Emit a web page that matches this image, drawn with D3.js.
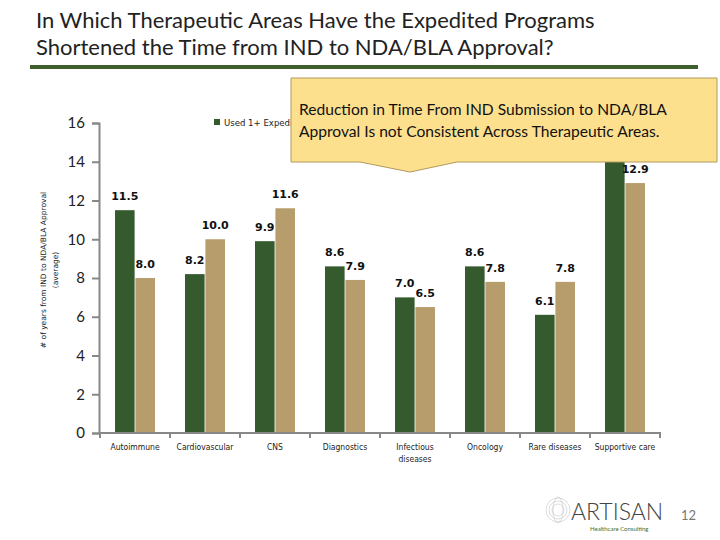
<!DOCTYPE html>
<html><head><meta charset="utf-8">
<script src="https://cdn.jsdelivr.net/npm/d3@7"></script>
<style>body{margin:0;background:#fff}svg{display:block}</style>
</head><body>
<script>
const titleLines = ["In Which Therapeutic Areas Have the Expedited Programs","Shortened the Time from IND to NDA/BLA Approval?"];
const categories = ["Autoimmune","Cardiovascular","CNS","Diagnostics","Infectious diseases","Oncology","Rare diseases","Supportive care"];
const seriesNames = ["Used 1+ Expedited Program","No Expedited Program"];
const usedExpedited = [11.5, 8.2, 9.9, 8.6, 7.0, 8.6, 6.1, 15.3];
const noExpedited = [8.0, 10.0, 11.6, 7.9, 6.5, 7.8, 7.8, 12.9];
const yTicks = [0,2,4,6,8,10,12,14,16];
const calloutLines = ["Reduction in Time From IND Submission to NDA/BLA","Approval Is not Consistent Across Therapeutic Areas."];
const yLabel = ["# of years  from IND to NDA/BLA Approval","(average)"];

const W=720,H=540;
const svg=d3.select("body").append("svg").attr("width",W).attr("height",H);
const colors=["#345a2d","#b89d6c"];

// title
const title=svg.append("text").attr("font-family","Lato, 'Open Sans', sans-serif").attr("font-size",22).attr("fill","#222");
titleLines.forEach((t,i)=>title.append("tspan").attr("x",36).attr("y",28+i*27).text(t));
svg.append("rect").attr("x",30).attr("y",65).attr("width",668).attr("height",4).attr("fill","#3f5f2f");

const y=d3.scaleLinear().domain([0,16]).range([433,123]);
const x0=d3.scaleBand().domain(categories).range([100,660]).padding(0);
const x1=d3.scaleBand().domain(seriesNames).range([15,55]).paddingInner(0.04);

// y axis
const yAxis=svg.append("g").attr("transform","translate(99,0)").call(d3.axisLeft(y).tickValues(yTicks).tickSize(7).tickPadding(7).tickFormat(d3.format("d")));
yAxis.select(".domain").attr("stroke","#888").attr("stroke-width",2);
yAxis.selectAll(".tick line").attr("stroke","#888").attr("stroke-width",2);
yAxis.selectAll(".tick text").attr("font-family","Lato, sans-serif").attr("font-size",15).attr("fill","#222");

// y label
const yl=svg.append("text").attr("transform","translate(46,270) rotate(-90)").attr("text-anchor","middle").attr("font-family","'DejaVu Sans', sans-serif").attr("font-size",7.5).attr("fill","#222");
yLabel.forEach((t,i)=>yl.append("tspan").attr("x",0).attr("dy",i?12:0).text(t));

// bars
const data=categories.map((c,i)=>({c,vals:[usedExpedited[i],noExpedited[i]]}));
const g=svg.selectAll("g.cat").data(data).join("g").attr("class","cat").attr("transform",d=>`translate(${x0(d.c)},0)`);
g.selectAll("rect").data(d=>d.vals.map((v,k)=>({v,s:seriesNames[k],k}))).join("rect")
 .attr("x",d=>x1(d.s)).attr("width",x1.bandwidth()).attr("y",d=>y(d.v)).attr("height",d=>y(0)-y(d.v)).attr("fill",d=>colors[d.k]);
g.selectAll("text.val").data(d=>d.vals.map((v,k)=>({v,s:seriesNames[k],k}))).join("text").attr("class","val")
 .attr("x",d=>x1(d.s)+x1.bandwidth()/2).attr("y",d=>y(d.v)-10).attr("text-anchor","middle")
 .attr("font-family","'DejaVu Sans', sans-serif").attr("font-size",11).attr("font-weight","bold").attr("fill","#111")
 .text(d=>d3.format(".1f")(d.v));

// x axis
svg.append("line").attr("x1",99).attr("x2",661).attr("y1",433).attr("y2",433).attr("stroke","#888").attr("stroke-width",2);
const bounds=categories.map(c=>x0(c)).concat([x0.range()[1]]);
svg.selectAll("line.xt").data(bounds).join("line").attr("class","xt").attr("x1",d=>d).attr("x2",d=>d).attr("y1",433).attr("y2",438).attr("stroke","#888").attr("stroke-width",2);
svg.selectAll("text.xl").data(categories).join("text").attr("class","xl")
 .attr("text-anchor","middle").attr("font-family","'DejaVu Sans Condensed', sans-serif").attr("font-size",8.5).attr("fill","#222")
 .each(function(c){
   const t=d3.select(this); const cx=x0(c)+x0.bandwidth()/2;
   const parts=c==="Infectious diseases"?["Infectious","diseases"]:[c];
   parts.forEach((p,i)=>t.append("tspan").attr("x",cx).attr("y",450+i*12).text(p));
 });

// legend
const lg=svg.append("g").attr("font-family","'DejaVu Sans Condensed', sans-serif").attr("font-size",9.5).attr("fill","#222");
seriesNames.forEach((s,i)=>{
  const lx=214+i*150;
  lg.append("rect").attr("x",lx).attr("y",119).attr("width",6).attr("height",6).attr("fill",colors[i]);
  lg.append("text").attr("x",lx+10).attr("y",126).text(s);
});

// callout
svg.append("path").attr("d","M291,78 L717,78 L717,162 L457,162 L410,172 L360,162 L291,162 Z")
 .attr("fill","#fde08e").attr("stroke","#b39a5c").attr("stroke-width",1);
const ct=svg.append("text").attr("font-family","Lato, 'Open Sans', sans-serif").attr("font-size",15.6).attr("fill","#111");
calloutLines.forEach((t,i)=>ct.append("tspan").attr("x",299).attr("y",115+i*22).text(t));

// logo
svg.append("text").attr("x",571).attr("y",520).attr("font-family","Lato, sans-serif").attr("font-size",23).attr("font-weight",300).attr("fill","#444").text("ARTISAN");
svg.append("text").attr("x",590).attr("y",531).attr("font-family","Lato, sans-serif").attr("font-size",6).attr("fill","#3f6f2f").text("Healthcare Consulting");
const globe=svg.append("g").attr("stroke","#bbb").attr("fill","none").attr("stroke-width",0.5);
[6,9,12].forEach(r=>globe.append("circle").attr("cx",558).attr("cy",510).attr("r",r));
globe.append("ellipse").attr("cx",558).attr("cy",510).attr("rx",5).attr("ry",13);
svg.append("text").attr("x",681).attr("y",520).attr("font-family","Lato, sans-serif").attr("font-size",13).attr("fill","#777").text("12");
</script>
</body></html>
